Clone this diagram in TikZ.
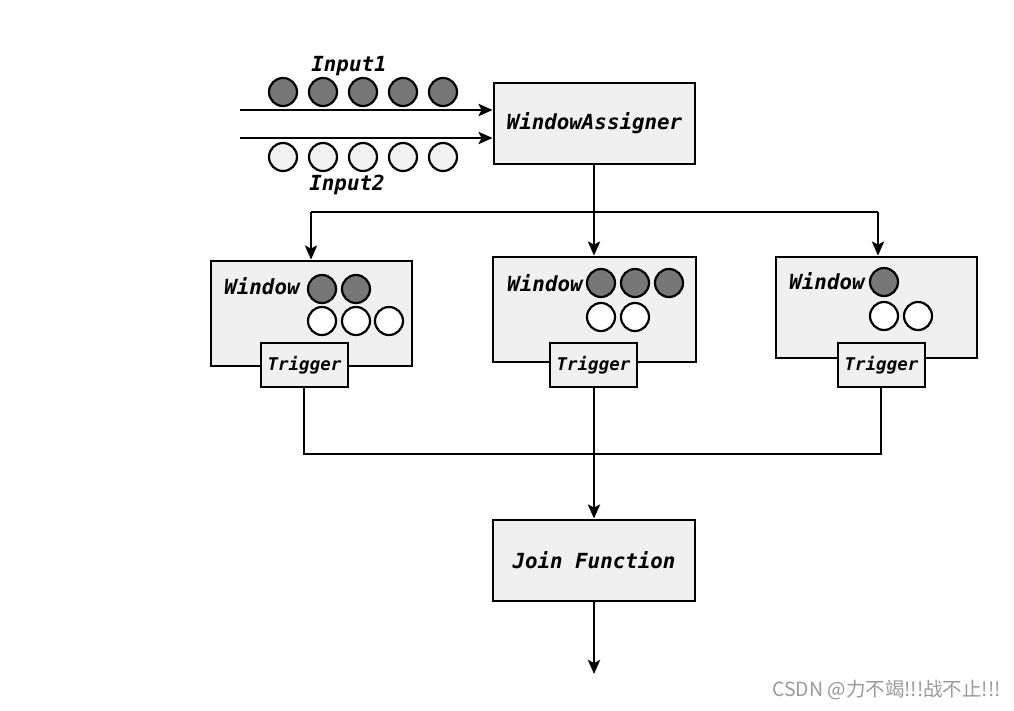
\documentclass[tikz,border=0pt]{standalone}
\usepackage{fontspec}
\setmonofont{DejaVu Sans Mono}
\newfontfamily\cjk{Noto Sans CJK SC}
\usetikzlibrary{arrows.meta}
\definecolor{boxfill}{HTML}{F0F0F0}
\definecolor{darkdot}{HTML}{777777}
\definecolor{lightdot}{HTML}{F2F2F2}
\definecolor{wm}{HTML}{9A9A9A}
\tikzset{
  box/.style={draw=black, line width=2.8pt, fill=boxfill, inner sep=0pt},
  lbl/.style={font=\ttfamily\bfseries\itshape\fontsize{20.8}{24}\selectfont, inner sep=0pt},
  trig/.style={box, font=\ttfamily\bfseries\itshape\fontsize{17.5}{21}\selectfont, minimum width=87pt, minimum height=44pt},
  dk/.style={circle, draw=black, line width=2.2pt, fill=darkdot, minimum size=28pt, inner sep=0pt},
  lt/.style={circle, draw=black, line width=2.2pt, fill=lightdot, minimum size=28pt, inner sep=0pt},
  wt/.style={circle, draw=black, line width=2.2pt, fill=white, minimum size=28pt, inner sep=0pt},
  conn/.style={line width=2.8pt, draw=black},
  arr/.style={conn, -{Stealth[length=14pt,width=12pt,inset=3pt]}},
}
\begin{document}
\begin{tikzpicture}[x=1pt,y=-1pt]
\useasboundingbox (0,0) rectangle (1014,710);
\fill[white] (0,0) rectangle (1014,710);

% WindowAssigner
\node[box, lbl, minimum width=201pt, minimum height=81pt] (wa) at (594.5,123.5) {WindowAssigner};

% inputs
\coordinate (i1s) at (240,110);
\coordinate (i2s) at (240,138);
\coordinate (i1e) at (wa.west |- i1s);
\coordinate (i2e) at (wa.west |- i2s);
\draw[arr] (i1s) -- (i1e);
\draw[arr] (i2s) -- (i2e);
\foreach \x [count=\i] in {283,323,363,403,443} {
  \node[dk] (a\i) at (\x,92) {};
  \node[lt] (b\i) at (\x,157) {};
}
\node[lbl] (in1) at (349,66) {Input1};
\node[lbl] (in2) at (347,185) {Input2};

% windows
\node[box, minimum width=201pt, minimum height=105pt] (w1) at (311.5,313.5) {};
\node[box, minimum width=203pt, minimum height=105pt] (w2) at (594.5,309.5) {};
\node[box, minimum width=201pt, minimum height=101pt] (w3) at (876.5,307.5) {};

\node[lbl] (w1t) at (262,286) {Window};
\node[lbl] (w2t) at (545,283) {Window};
\node[lbl] (w3t) at (827,281) {Window};

\node[dk] (w1d1) at (322,289) {};
\node[dk] (w1d2) at (356,289) {};
\node[wt] (w1l1) at (322,321) {};
\node[wt] (w1l2) at (356,321) {};
\node[wt] (w1l3) at (389,321) {};

\node[dk] (w2d1) at (601,283) {};
\node[dk] (w2d2) at (635,283) {};
\node[dk] (w2d3) at (669,283) {};
\node[wt] (w2l1) at (601,317) {};
\node[wt] (w2l2) at (635,317) {};

\node[dk] (w3d1) at (884,282) {};
\node[wt] (w3l1) at (884,316) {};
\node[wt] (w3l2) at (918,316) {};

% triggers
\node[trig] (t1) at (304.5,365) {Trigger};
\node[trig] (t2) at (593.5,365) {Trigger};
\node[trig] (t3) at (881.5,365) {Trigger};

% distribution
\coordinate (split) at (594,212);
\coordinate (sl) at (311,212);
\coordinate (sr) at (878,212);
\draw[conn] (wa.south -| split) -- (split);
\draw[conn] (sl) -- (sr);
\draw[arr] (sl) -- (sl |- w1.north);
\draw[arr] (split) -- (split |- w2.north);
\draw[arr] (sr) -- (sr |- w3.north);

% Join
\node[box, lbl, minimum width=202pt, minimum height=81pt] (jf) at (594,560.5) {Join Function};
\coordinate (m1) at (304,454);
\coordinate (m3) at (881,454);
\coordinate (m2) at (594,454);
\draw[conn] (t1.south -| m1) -- (m1) -- (m3) -- (t3.south -| m3);
\draw[arr] (t2.south -| m2) -- (jf.north -| m2);
\coordinate (out) at (594,674);
\draw[arr] (jf.south -| out) -- (out);

% watermark
\node[text=wm, font=\cjk\fontsize{19.5}{22}\selectfont, anchor=east, inner sep=0pt] (wmk) at (1001,690) {CSDN @力不竭!!!战不止!!!};
\end{tikzpicture}
\end{document}
